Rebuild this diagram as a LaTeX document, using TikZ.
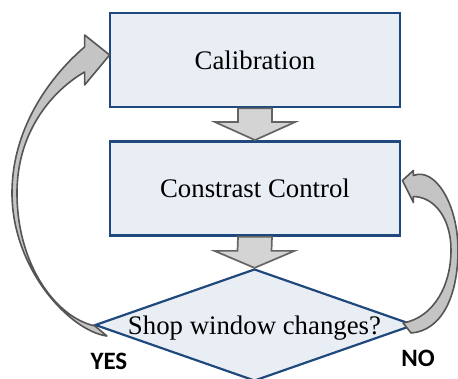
\documentclass[tikz,border=0pt]{standalone}
\usepackage{fontspec}
\setmainfont{Liberation Serif}
\newfontfamily\answerfont{Carlito}
\usetikzlibrary{calc,shapes.geometric}
\definecolor{boxblue}{RGB}{31,73,125}
\definecolor{boxfill}{RGB}{233,237,244}
\definecolor{arrfill}{RGB}{212,212,212}
\definecolor{arrline}{RGB}{100,100,100}
\definecolor{loopfill}{RGB}{196,196,196}
\tikzset{
  stage/.style={draw=boxblue, fill=boxfill, line width=2.8pt, minimum width=290pt,
    minimum height=94pt, inner sep=0pt, font=\fontsize{26.8}{30}\selectfont},
  decision/.style={diamond, draw=boxblue, fill=boxfill, line width=2.2pt,
    minimum width=319pt, minimum height=112pt, inner sep=0pt},
  decisiontext/.style={font=\fontsize{26.8}{30}\selectfont, text depth=0pt, inner sep=0pt},
  blockarr/.style={draw=arrline, fill=arrfill, line width=1.7pt, line join=miter},
  looparr/.style={draw=arrline!85!black, fill=loopfill, line width=1.6pt, line join=round},
  answer/.style={font=\answerfont\bfseries\fontsize{25}{27}\selectfont, inner sep=0pt}
}
\begin{document}
\begin{tikzpicture}[x=1pt,y=1pt]
  \useasboundingbox (0,0) rectangle (458,379);

  % stages
  \node[stage] (cal) at (255,319) {Calibration};
  \node[stage] (cc) at (255,190.5) {Constrast Control};
  \node[decision] (dec) at (254.5,54) {};
  \node[decisiontext] (dectext) at (dec.center) {Shop window changes?};

  % block arrows down the chain
  \draw[blockarr] ($(cal.south)+(-17,0)$) -- ($(cc.north)+(-17,18)$) -- ($(cc.north)+(-40,18)$)
    -- (cc.north) -- ($(cc.north)+(40,18)$) -- ($(cc.north)+(17,18)$) -- ($(cal.south)+(17,0)$) -- cycle;
  \draw[blockarr] ($(cc.south)+(-17,0)$) -- ($(dec.north)+(-17,17)$) -- ($(dec.north)+(-40,17)$)
    -- (dec.north) -- ($(dec.north)+(40,17)$) -- ($(dec.north)+(17,17)$) -- ($(cc.south)+(17,0)$) -- cycle;

  % YES: back to calibration
  \draw[looparr] ($(cal.west)+(1,5)$) -- ++(-25,20) -- ++(0,-12)
    .. controls (55,307) and (12,255) .. (12,186)
    .. controls (12,110) and (70,48) .. ($(dec.west)+(13,-11)$)
    -- ($(dec.west)+(1,-1)$)
    .. controls (55,62) and (17,115) .. (17,186)
    .. controls (17,250) and (55,290) .. ($(cal.west)+(-24,-12)$)
    -- ++(0,-13) -- cycle;

  % NO: back to contrast control
  \draw[looparr] ($(cc.east)+(1,8)$) -- ++(11,10) -- ++(0,-5)
    .. controls (435,212) and (458,175) .. (458,129)
    .. controls (458,80) and (440,48) .. ($(dec.east)+(-4,-8)$)
    -- ($(dec.east)+(-12,2)$)
    .. controls (435,62) and (451,95) .. (451,129)
    .. controls (451,160) and (435,182) .. ($(cc.east)+(12,-8)$)
    -- ++(0,-6) -- cycle;

  \node[answer] (yes) at ($(dec.west)+(15,-36)$) {YES};
  \node[answer] (no) at ($(dec.east)+(3,-33)$) {NO};
\end{tikzpicture}
\end{document}
